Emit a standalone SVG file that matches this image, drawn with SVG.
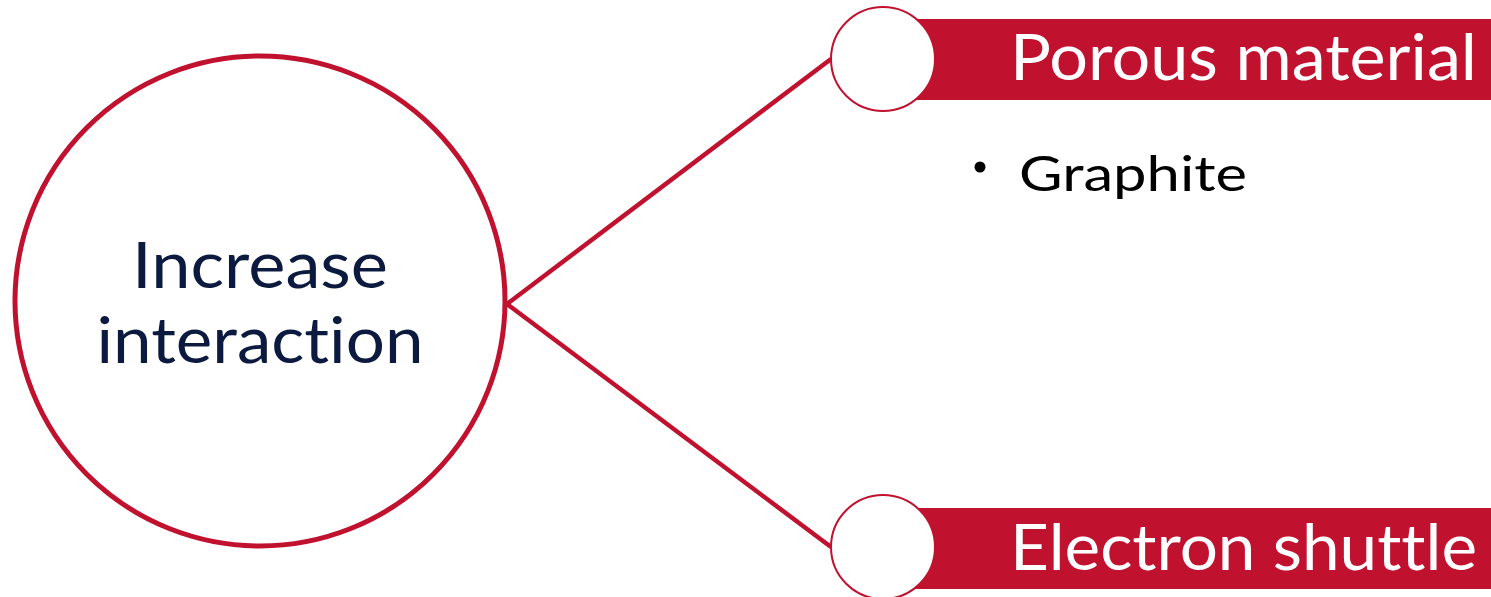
<svg xmlns="http://www.w3.org/2000/svg" width="1491" height="597" viewBox="0 0 1491 597">
  <style>
    .edge { stroke: #C0112F; stroke-width: 4.5; fill: none; }
    .hub { fill: #FFFFFF; stroke: #C0112F; stroke-width: 5; }
    .dot { fill: #FFFFFF; stroke: #C0112F; stroke-width: 2; }
    .bar { fill: #C0112F; }
    text { font-variant-ligatures: none; }
    .hubtext { font-family: Lato, "Liberation Sans", sans-serif; font-size: 64px; fill: #0B1A3E; text-anchor: middle; }
    .bartext { font-family: Lato, "Liberation Sans", sans-serif; font-size: 64px; fill: #FFFFFF; text-anchor: end; }
    .item { font-family: Lato, "Liberation Sans", sans-serif; font-size: 48px; fill: #000000; }
  </style>

  <!-- connectors -->
  <g id="connectors">
    <line class="edge" x1="507" y1="304" x2="831" y2="59"/>
    <line class="edge" x1="507" y1="304" x2="831" y2="547"/>
  </g>

  <!-- central node -->
  <g id="node-increase-interaction">
    <circle class="hub" cx="260" cy="301" r="245"/>
    <text class="hubtext" x="260" y="288" textLength="256" lengthAdjust="spacingAndGlyphs">Increase</text>
    <text class="hubtext" x="260" y="363" textLength="327" lengthAdjust="spacingAndGlyphs">interaction</text>
  </g>

  <!-- top branch -->
  <g id="node-porous-material">
    <rect class="bar" x="883" y="19" width="608" height="81"/>
    <circle class="dot" cx="883" cy="59" r="52"/>
    <text class="bartext" x="1477" y="80" textLength="467" lengthAdjust="spacingAndGlyphs">Porous material</text>
  </g>

  <!-- bullet under top branch -->
  <g id="item-graphite">
    <circle cx="980" cy="167" r="5.5" fill="#000000"/>
    <text class="item" x="1019" y="191" textLength="228" lengthAdjust="spacingAndGlyphs">Graphite</text>
  </g>

  <!-- bottom branch -->
  <g id="node-electron-shuttle">
    <rect class="bar" x="883" y="508" width="608" height="81"/>
    <circle class="dot" cx="883" cy="547" r="52"/>
    <text class="bartext" x="1477" y="570" textLength="467" lengthAdjust="spacingAndGlyphs">Electron shuttle</text>
  </g>
</svg>
